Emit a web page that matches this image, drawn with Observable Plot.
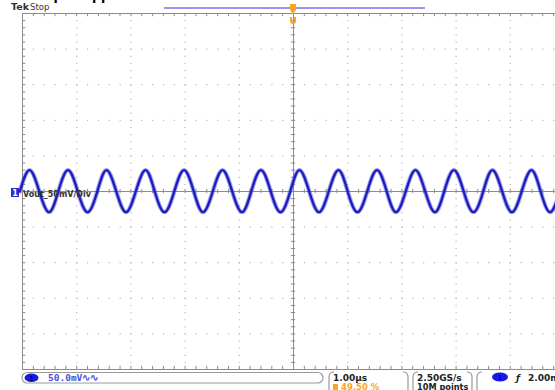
<!DOCTYPE html>
<html><head><meta charset="utf-8">
<script src="https://cdn.jsdelivr.net/npm/d3@7"></script>
<script src="https://cdn.jsdelivr.net/npm/@observablehq/plot@0.6"></script>
<style>
html,body{margin:0;padding:0;background:#fff;overflow:hidden;width:555px;height:390px}
#c{position:absolute;left:0;top:0;width:564px}
#c svg{max-width:none !important;overflow:visible}
</style></head>
<body><div id="c"></div>
<script>
// time (µs, relative to trigger) and voltage (mV)
const waveT = [-5.05,-4.87,-4.69,-4.51,-4.34,-4.16,-3.98,-3.80,-3.62,-3.45,-3.27,-3.09,-2.91,-2.73,-2.56,-2.38,-2.20,-2.02,-1.84,-1.67,-1.49,-1.31,-1.13,-0.95,-0.78,-0.60,-0.42,-0.24,-0.06,0.11,0.29,0.47,0.65,0.83,1.00,1.18,1.36,1.54,1.72,1.89,2.07,2.25,2.43,2.61,2.78,2.96,3.14,3.32,3.50,3.67,3.85,4.03,4.21,4.39,4.56,4.74,4.92,5.10];
const waveV = [0,30,0,-29,0,30,0,-29,0,30,0,-29,0,30,0,-29,0,30,0,-29,0,30,0,-29,0,30,0,-29,0,30,0,-29,0,30,0,-29,0,30,0,-29,0,30,0,-29,0,30,0,-29,0,30,0,-29,0,30,0,-29,0,30];
const gridX = [-4,-3,-2,-1,1,2,3,4];
const gridY = [-200,-150,-100,-50,50,100,150,200];
const minorX = d3.range(-5, 5.001, 0.2).map(d => +d.toFixed(2));
const minorY = d3.range(-250, 250.1, 10);
const titleText = "Output ripple";
const channelLabel = "Vout_50mV/Div";
const scaleText = "50.0mV";
const timeText = "1.00µs";
const trigPosText = "49.50 %";
const rateText = "2.50GS/s";
const pointsText = "10M points";
const trigLevelText = "2.00mV";

const wave = waveT.map((t, i) => ({t, v: waveV[i]}));
const gridCol = "#b8b8b8", axisCol = "#8c8c8c";

const chart = Plot.plot({
  width: 564, height: 390,
  marginTop: 13, marginBottom: 21, marginLeft: 22, marginRight: 0,
  x: {domain: [-5, 5], axis: null},
  y: {domain: [-250, 250], axis: null},
  marks: [
    Plot.ruleX(gridX, {stroke: gridCol, strokeWidth: 1.2, strokeDasharray: "1.2,5.92"}),
    Plot.ruleY(gridY, {stroke: gridCol, strokeWidth: 1.2, strokeDasharray: "1.2,9.64"}),
    Plot.ruleX([0], {stroke: axisCol}),
    Plot.ruleY([0], {stroke: axisCol}),
    Plot.ruleX(minorX, {y1: -3, y2: 3, stroke: axisCol}),
    Plot.ruleY(minorY, {x1: -0.04, x2: 0.04, stroke: axisCol}),
    Plot.ruleX(minorX, {y1: 250, y2: 245.5, stroke: axisCol}),
    Plot.ruleX(minorX, {y1: -250, y2: -245.5, stroke: axisCol}),
    Plot.ruleY(minorY, {x1: -5, x2: -4.94, stroke: axisCol}),
    Plot.frame({stroke: axisCol}),
    Plot.line(wave, {x: "t", y: "v", curve: "natural", stroke: "#4c4cdc", strokeWidth: 4.4, strokeOpacity: 0.5}),
    Plot.line(wave, {x: "t", y: "v", curve: "natural", stroke: "#1c1cc0", strokeWidth: 2.3})
  ]
});
chart.style.maxWidth = "none";
document.getElementById("c").appendChild(chart);

const svg = d3.select(chart);
const g = svg.append("g").attr("text-anchor", "start").attr("font-family", "DejaVu Sans");
// cropped title (only descenders visible)
g.append("text").attr("x", 28).attr("y", 0).attr("font-weight", "bold")
  .attr("font-size", 12.5).attr("fill", "#000").text(titleText);
// header
g.append("text").attr("x", 11).attr("y", 10).attr("font-weight", "bold")
  .attr("font-size", 9.5).attr("fill", "#333").text("Tek");
g.append("text").attr("x", 30).attr("y", 10)
  .attr("font-size", 8.5).attr("fill", "#333").text("Stop");
g.append("line").attr("x1", 164).attr("x2", 425).attr("y1", 8).attr("y2", 8)
  .attr("stroke", "#7373ea").attr("stroke-width", 1.5);
// trigger marker
g.append("path").attr("d", "M290,4 h6 v6 l-2,3 v1 h-2 v-1 l-2,-3 z").attr("fill", "#f5a623");
g.append("path").attr("d", "M290,17 v4 q0,3 3,3 q3,0 3,-3 v-4 h-2 v4 q0,1 -1,1 q-1,0 -1,-1 v-4 z").attr("fill", "#f5a623");

// channel marker
g.append("rect").attr("x", 11).attr("y", 188).attr("width", 8).attr("height", 9).attr("fill", "#2b2bd0");
g.append("text").attr("x", 15).attr("y", 195.5).attr("text-anchor", "middle")
  .attr("font-weight", "bold").attr("font-size", 8).attr("fill", "#fff").text("1");
g.append("text").attr("x", 23).attr("y", 197).attr("font-weight", "bold")
  .attr("font-size", 8).attr("fill", "#333").text(channelLabel);

// status bar
g.append("rect").attr("x", 22).attr("y", 372.5).attr("width", 301).attr("height", 10.5).attr("rx", 5)
  .attr("fill", "none").attr("stroke", "#9a9a9a").attr("stroke-width", 1.2);
g.append("ellipse").attr("cx", 31.5).attr("cy", 377.8).attr("rx", 7).attr("ry", 4.3).attr("fill", "#1a1ae6");
g.append("text").attr("x", 31.5).attr("y", 380.5).attr("text-anchor", "middle")
  .attr("font-size", 7).attr("fill", "#000").text("1");
g.append("text").attr("x", 48).attr("y", 381).attr("font-family", "DejaVu Sans Mono").attr("font-weight", "bold")
  .attr("font-size", 9.5).attr("fill", "#5050e0").text(scaleText + "∿∿");
const bracket = (x, dir) => g.append("path")
  .attr("d", dir > 0 ? `M${x+5},372 q-5,0 -5,5 v13` : `M${x-5},372 q5,0 5,5 v13`)
  .attr("fill", "none").attr("stroke", "#9a9a9a").attr("stroke-width", 1.2);
bracket(329, 1); bracket(408, -1); bracket(413, 1); bracket(472, -1); bracket(477, 1);
g.append("text").attr("x", 333).attr("y", 381).attr("font-weight", "bold")
  .attr("font-size", 9).attr("fill", "#222").text(timeText);
g.append("rect").attr("x", 333).attr("y", 384).attr("width", 5).attr("height", 6).attr("fill", "#f5a623");
g.append("text").attr("x", 341).attr("y", 389.5).attr("font-weight", "bold")
  .attr("font-size", 8.5).attr("fill", "#f5a623").text(trigPosText);
g.append("text").attr("x", 417).attr("y", 381).attr("font-weight", "bold")
  .attr("font-size", 9).attr("fill", "#222").text(rateText);
g.append("text").attr("x", 417).attr("y", 389.5).attr("font-weight", "bold")
  .attr("font-size", 8.2).attr("fill", "#222").text(pointsText);
g.append("ellipse").attr("cx", 500).attr("cy", 377).attr("rx", 8).attr("ry", 4.5).attr("fill", "#1a1ae6");
g.append("text").attr("x", 500).attr("y", 380).attr("text-anchor", "middle")
  .attr("font-size", 7).attr("fill", "#000").text("1");
g.append("text").attr("x", 516).attr("y", 381).attr("font-style", "italic")
  .attr("font-weight", "bold").attr("font-size", 9).attr("fill", "#222").text("ƒ");
g.append("text").attr("x", 528).attr("y", 381).attr("font-weight", "bold")
  .attr("font-size", 9).attr("fill", "#222").text(trigLevelText);
</script></body></html>
